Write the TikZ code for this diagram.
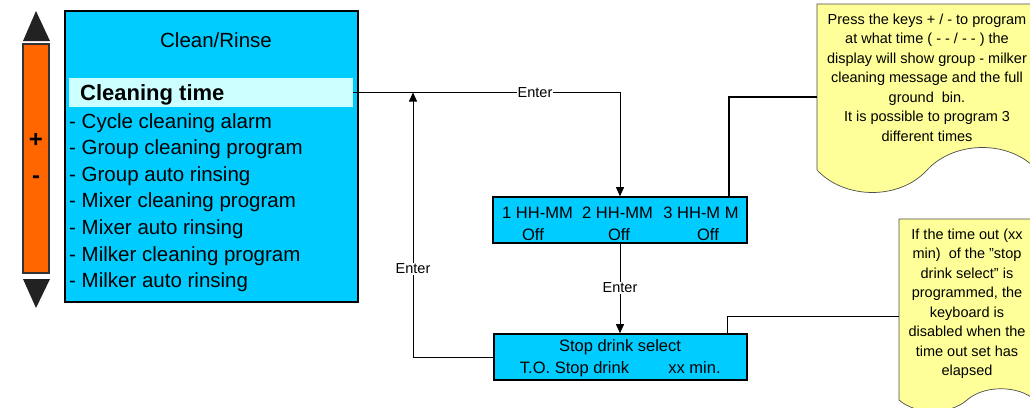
\documentclass[tikz,border=0pt]{standalone}
\usepackage{fontspec}
\setmainfont{Liberation Sans}
\usetikzlibrary{arrows.meta}
\definecolor{scyan}{HTML}{00CCFF}
\definecolor{hlcyan}{HTML}{CCFFFF}
\definecolor{barorange}{HTML}{FF6600}
\definecolor{noteyellow}{HTML}{FFFF99}
\definecolor{tridark}{HTML}{222222}
\begin{document}
\begin{tikzpicture}[x=1pt,y=-1pt,
  lcdbox/.style={draw=black,line width=1.6pt,fill=scyan,inner sep=0pt},
  menutext/.style={anchor=base west,inner sep=0pt,font=\fontsize{20.5}{24}\selectfont},
  lcdtext/.style={anchor=base,inner sep=0pt,font=\fontsize{16.5}{20}\selectfont},
  conn/.style={draw=black,line width=0.8pt},
  arr/.style={conn,-{Triangle[length=9pt,width=8pt]}},
  lbl/.style={fill=white,inner sep=1pt,font=\fontsize{14.5}{17}\selectfont},
  note/.style={draw=black!70,line width=0.7pt,fill=noteyellow},
  notetext/.style={align=center,inner sep=0pt,anchor=north,font=\fontsize{14.5}{19.5}\selectfont},
  signtext/.style={inner sep=0pt,font=\bfseries\fontsize{24}{24}\selectfont}]
\useasboundingbox (0,0) rectangle (1030,407);
\clip (0,0) rectangle (1030,407);

% up/down bar
\node[draw=black!80,line width=1.2pt,fill=barorange,minimum width=26pt,minimum height=229pt,inner sep=0pt] (bar) at (36,158.5) {};
\fill[tridark] (36,11) -- (50,41) -- (23,41) -- cycle;
\fill[tridark] (36,308) -- (50,279) -- (23,279) -- cycle;
\node[signtext] (plus) at (36,140) {+};
\node[signtext] (minus) at (36,180) {-};

% main display
\node[lcdbox,minimum width=293pt,minimum height=291pt] (main) at (211.5,156.5) {};
\node[fill=hlcyan,minimum width=284pt,minimum height=29pt,inner sep=0pt] (hl) at (211,92.5) {};
\node[anchor=base,inner sep=0pt,font=\fontsize{20.5}{24}\selectfont] (title) at (216,47) {Clean/Rinse};
\node[menutext,font=\bfseries\fontsize{22}{24}\selectfont] (ct) at (80,100) {Cleaning time};
\node[menutext] (m1) at (69,128) {- Cycle cleaning alarm};
\node[menutext] (m2) at (69,154.6) {- Group cleaning program};
\node[menutext] (m3) at (69,181.2) {- Group auto rinsing};
\node[menutext] (m4) at (69,207.8) {- Mixer cleaning program};
\node[menutext] (m5) at (69,234.4) {- Mixer auto rinsing};
\node[menutext] (m6) at (69,261) {- Milker cleaning program};
\node[menutext] (m7) at (69,287.6) {- Milker auto rinsing};

% time box
\node[lcdbox,minimum width=254pt,minimum height=46pt] (box1) at (620,220) {};
\node[lcdtext] (t1) at (537.5,218) {1 HH-MM};
\node[lcdtext] (t2) at (617.5,218) {2 HH-MM};
\node[lcdtext] (t3) at (701,218) {3 HH-M M};
\node[lcdtext] (o1) at (533,240) {Off};
\node[lcdtext] (o2) at (619,240) {Off};
\node[lcdtext] (o3) at (708,240) {Off};

% stop box
\node[lcdbox,minimum width=253pt,minimum height=46pt] (stop) at (620.5,357) {};
\node[lcdtext] (s1) at (620,351) {Stop drink select};
\node[lcdtext] (s2) at (574.5,373) {T.O. Stop drink};
\node[lcdtext] (s3) at (694.5,373) {xx min.};

% notes
\draw[note] (817,4) -- (1037,4) -- (1037,170) .. controls (1010,140) and (955,140) .. (927,170) .. controls (900,200) and (845,200) .. (817,170) -- cycle;
\node[notetext] (n1) at (927,13.5) {Press the keys + / - to program\\at what time ( - - / - - ) the\\display will show group - milker\\cleaning message and the full\\ground\ \ bin.\hspace*{30pt}\\It is possible to program 3\\different times};
\draw[note] (899,219) -- (1035,219) -- (1035,400) .. controls (1018,385) and (984,385) .. (967,400) .. controls (950,415) and (916,415) .. (899,400) -- cycle;
\node[notetext] (n2) at (967,228.5) {If the time out (xx\\min)\ \ of the \symbol{34}stop\\drink select\symbol{34} is\\programmed, the\\keyboard is\\disabled when the\\time out set has\\elapsed};
\coordinate (n1w) at (817,97);
\coordinate (n2w) at (899,316);

% connectors
\coordinate (ret) at (413,92.5);
\draw[arr] (hl.east) -| (box1.north);
\draw[arr] (stop.west) -| (ret);
\draw[arr] (box1.south) -- (box1.south |- stop.north);
\draw[conn,line width=1.6pt] ([xshift=-19pt]box1.north east) |- (n1w);
\draw[conn] ([xshift=-20pt]stop.north east) |- (n2w);
\node[lbl] (e1) at (535,92.5) {Enter};
\node[lbl] (e2) at (413,269) {Enter};
\node[lbl] (e3) at (620,288) {Enter};
\end{tikzpicture}
\end{document}
